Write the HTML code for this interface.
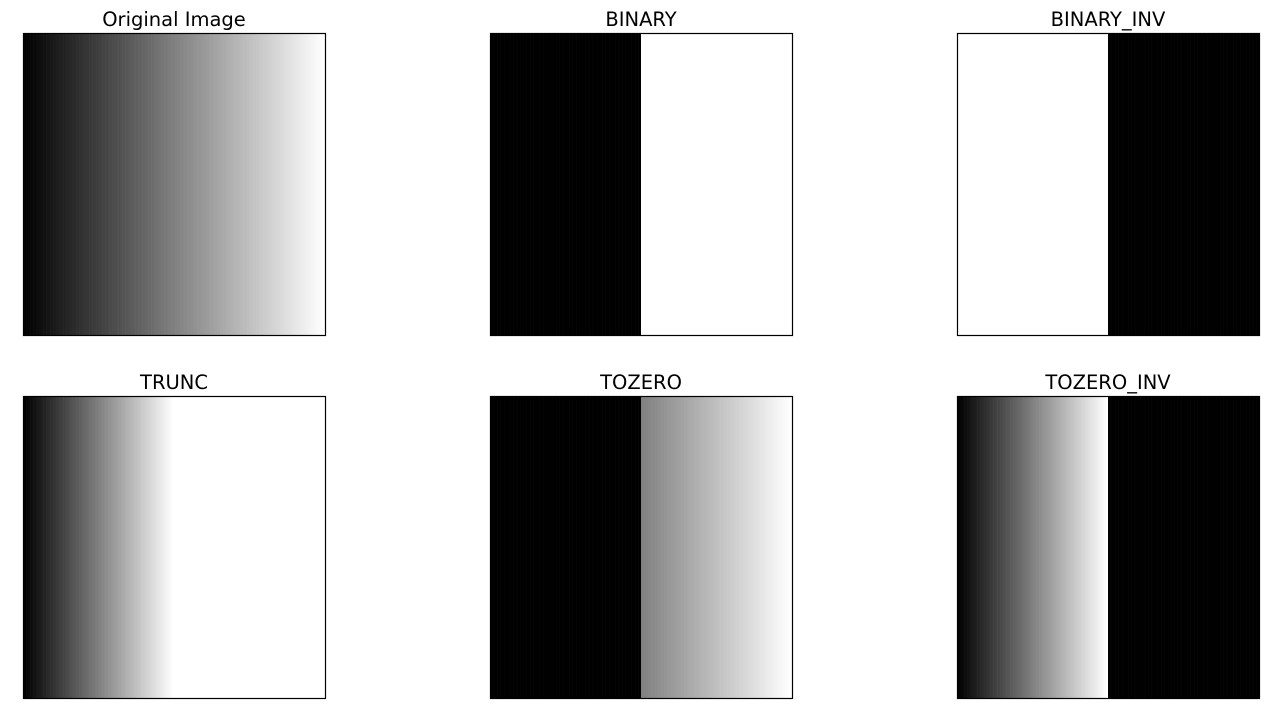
<!DOCTYPE html>
<html><head><meta charset="utf-8"><style>
html,body{margin:0;padding:0;background:#fff;}
body{width:1277px;height:717px;overflow:hidden;}
text{font-family:"DejaVu Sans","Liberation Sans",sans-serif;}
</style></head><body>
<svg id="fig" width="1277" height="717" xmlns="http://www.w3.org/2000/svg"></svg>
<script>
const titles = ["Original Image","BINARY","BINARY_INV","TRUNC","TOZERO","TOZERO_INV"];
const threshold = 127;
const maxValue = 255;
const inputMin = 0;
const inputMax = 255;
const steps = 256;
const colX = [23, 490, 957];
const rowY = [33, 396];
const size = 302;
const svg = document.getElementById('fig');
const NS = 'http://www.w3.org/2000/svg';
function fn(type, v){
  switch(type){
    case 0: return v;
    case 1: return v > threshold ? maxValue : 0;
    case 2: return v > threshold ? 0 : maxValue;
    case 3: return v > threshold ? threshold : v;
    case 4: return v > threshold ? v : 0;
    case 5: return v > threshold ? 0 : v;
  }
}
const inputs = [];
for(let i=0;i<steps;i++) inputs.push(inputMin + (inputMax-inputMin)*i/(steps-1));
titles.forEach((t,k)=>{
  const x0 = colX[k%3], y0 = rowY[Math.floor(k/3)];
  const g = document.createElementNS(NS,'g');
  
  
  const vals = inputs.map(v=>fn(k,v));
  const mn = Math.min(...vals), mx = Math.max(...vals);
  const w = size/steps;
  vals.forEach((v,i)=>{
    const n = mx>mn ? (v-mn)/(mx-mn) : 0;
    const c = Math.round(n*255);
    const r = document.createElementNS(NS,'rect');
    
    
    r.setAttribute('x', x0 + i*w);
    r.setAttribute('y', y0);
    r.setAttribute('width', w+0.3);
    r.setAttribute('height', size);
    r.setAttribute('fill', `rgb(${c},${c},${c})`);
    g.appendChild(r);
  });
  const b = document.createElementNS(NS,'rect');
  
  
  b.setAttribute('x', x0+0.5); b.setAttribute('y', y0+0.5);
  b.setAttribute('width', size); b.setAttribute('height', size);
  b.setAttribute('fill','none'); b.setAttribute('stroke','#000'); b.setAttribute('stroke-width','1.2');
  g.appendChild(b);
  const tx = document.createElementNS(NS,'text');
  
  
  tx.setAttribute('x', x0 + size/2); tx.setAttribute('y', y0 - 7);
  tx.setAttribute('text-anchor','middle'); tx.setAttribute('font-size','19.5');
  tx.setAttribute('fill','#000');
  tx.textContent = t;
  g.appendChild(tx);
  svg.appendChild(g);
});
</script>
</body></html>
